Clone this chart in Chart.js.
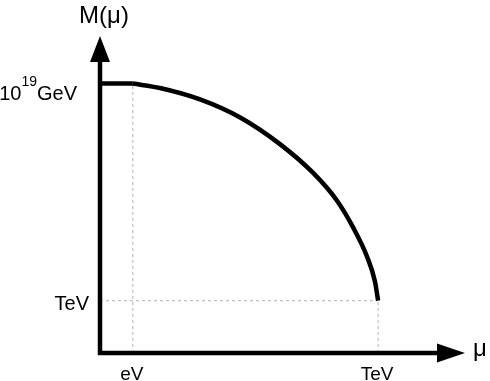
<!DOCTYPE html>
<html>
<head>
<meta charset="utf-8">
<script src="https://cdn.jsdelivr.net/npm/chart.js@4/dist/chart.umd.min.js"></script>
<style>
  body { margin: 0; background: #fff; }
  canvas { display: block; }
</style>
</head>
<body>
<canvas id="chart" width="490" height="381"></canvas>
<script>
// schematic units: axes run 0..10 in both directions
const xMax = 10;
const yMax = 10;

// tick positions and labels
const xTickValues = [0.9, 7.62];
const xTickLabels = ['eV', 'TeV'];
const yTickValues = [8.5, 1.65];
const yTickLabels = [['10', '19', 'GeV'], ['TeV']];

const xAxisTitle = 'μ';
const yAxisTitle = 'M(μ)';

// the running mass curve
const flatX = [0, 0.9];
const flatY = [8.5, 8.5];
const curveX = [0.9, 1.64, 2.74, 3.84, 4.93, 5.84, 6.49, 6.93, 7.32, 7.53, 7.62];
const curveY = [8.5, 8.36, 8.0, 7.43, 6.59, 5.68, 4.81, 3.97, 3.03, 2.27, 1.65];

const toPoints = (xs, ys) => xs.map((x, i) => ({ x: x, y: ys[i] }));

// dotted guide lines from the axes to the ends of the curve
const guideEV = toPoints([xTickValues[0], xTickValues[0]], [0, yTickValues[0]]);
const guideTeVh = toPoints([0, xTickValues[1]], [yTickValues[1], yTickValues[1]]);
const guideTeVv = toPoints([xTickValues[1], xTickValues[1]], [0, yTickValues[1]]);

const guideStyle = {
    borderColor: '#b4b4b4',
    borderWidth: 1,
    borderDash: [3, 3],
    pointRadius: 0,
    showLine: true,
    order: 5
};

const axesPlugin = {
    id: 'arrowAxes',
    afterDatasetsDraw(chart) {
        const ctx = chart.ctx;
        const xs = chart.scales.x;
        const ys = chart.scales.y;
        const x0 = xs.getPixelForValue(0);
        const y0 = ys.getPixelForValue(0);
        const xEnd = xs.getPixelForValue(xMax);
        const yEnd = ys.getPixelForValue(yMax);

        ctx.save();
        ctx.strokeStyle = '#000';
        ctx.fillStyle = '#000';
        ctx.lineWidth = 4.5;
        ctx.lineCap = 'square';
        ctx.beginPath();
        ctx.moveTo(x0, yEnd + 20);
        ctx.lineTo(x0, y0);
        ctx.lineTo(xEnd - 20, y0);
        ctx.stroke();

        // arrow heads
        ctx.beginPath();
        ctx.moveTo(x0, yEnd);
        ctx.lineTo(x0 - 10, yEnd + 26);
        ctx.lineTo(x0 + 10, yEnd + 26);
        ctx.closePath();
        ctx.fill();
        ctx.beginPath();
        ctx.moveTo(xEnd, y0);
        ctx.lineTo(xEnd - 28, y0 - 9.5);
        ctx.lineTo(xEnd - 28, y0 + 9.5);
        ctx.closePath();
        ctx.fill();

        // axis titles
        ctx.font = '24px "Liberation Sans", Arial, sans-serif';
        ctx.textAlign = 'center';
        ctx.textBaseline = 'alphabetic';
        ctx.fillText(yAxisTitle, x0 + 4, yEnd - 13);
        ctx.textAlign = 'left';
        ctx.fillText(xAxisTitle, xEnd + 8, y0 + 3);

        // x tick labels
        ctx.font = '19px "Liberation Sans", Arial, sans-serif';
        ctx.textAlign = 'center';
        xTickValues.forEach((v, i) => {
            ctx.fillText(xTickLabels[i], xs.getPixelForValue(v) - 1, y0 + 27);
        });

        // y tick labels (first one carries a superscript)
        yTickValues.forEach((v, i) => {
            const py = ys.getPixelForValue(v);
            const parts = yTickLabels[i];
            if (parts.length === 1) {
                ctx.font = '20px "Liberation Sans", Arial, sans-serif';
                ctx.textAlign = 'right';
                ctx.fillText(parts[0], x0 - 11, py + 9);
            } else {
                ctx.textAlign = 'left';
                ctx.font = '20px "Liberation Sans", Arial, sans-serif';
                const wBase = ctx.measureText(parts[0]).width;
                const wUnit = ctx.measureText(parts[2]).width;
                ctx.font = '14px "Liberation Sans", Arial, sans-serif';
                const wSup = ctx.measureText(parts[1]).width;
                let px = x0 - 23 - wUnit - wSup - wBase;
                ctx.font = '20px "Liberation Sans", Arial, sans-serif';
                ctx.fillText(parts[0], px, py + 16);
                px += wBase;
                ctx.font = '14px "Liberation Sans", Arial, sans-serif';
                ctx.fillText(parts[1], px, py + 2);
                px += wSup;
                ctx.font = '20px "Liberation Sans", Arial, sans-serif';
                ctx.fillText(parts[2], px, py + 16);
            }
        });
        ctx.restore();
    }
};

new Chart(document.getElementById('chart'), {
    type: 'scatter',
    data: {
        datasets: [
            {
                data: toPoints(curveX, curveY),
                showLine: true,
                borderColor: '#000',
                borderWidth: 4.5,
                pointRadius: 0,
                cubicInterpolationMode: 'monotone',
                borderCapStyle: 'butt',
                clip: false,
                order: 1
            },
            {
                data: toPoints(flatX, flatY),
                showLine: true,
                borderColor: '#000',
                borderWidth: 4.5,
                pointRadius: 0,
                clip: false,
                order: 1
            },
            Object.assign({ data: guideEV }, guideStyle),
            Object.assign({ data: guideTeVh }, guideStyle),
            Object.assign({ data: guideTeVv }, guideStyle)
        ]
    },
    options: {
        responsive: false,
        animation: false,
        devicePixelRatio: 1,
        layout: { padding: { left: 100, right: 25, top: 36, bottom: 28 } },
        plugins: { legend: { display: false }, tooltip: { enabled: false } },
        scales: {
            x: { type: 'linear', display: false, min: 0, max: xMax },
            y: { type: 'linear', display: false, min: 0, max: yMax }
        }
    },
    plugins: [axesPlugin]
});
</script>
</body>
</html>
